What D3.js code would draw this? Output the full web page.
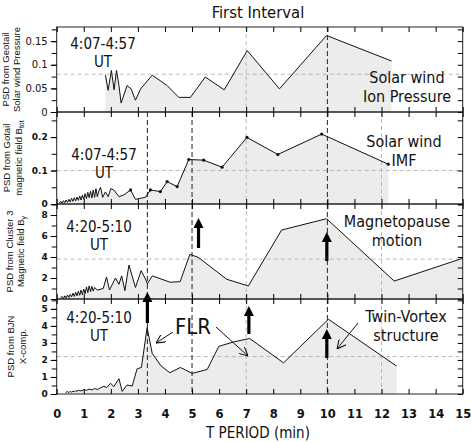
<!DOCTYPE html>
<html lang="en">
<head>
<meta charset="UTF-8">
<title>First Interval</title>
<script src="https://d3js.org/d3.v7.min.js"></script>
<style>
  body { margin: 0; background: #fff; }
  svg text { font-family: "DejaVu Sans", Verdana, sans-serif; fill: #111; }
  svg text.ann { font-family: "DejaVu Sans Condensed", "DejaVu Sans", sans-serif; }
</style>
</head>
<body>
<svg id="chart" width="471" height="442"></svg>
<script>
// ---- data (period in min, PSD) ----
const periods = d3.range(0, 16);

const geotailPressure = [
  [1.80, 0.078], [1.90, 0.046], [2.02, 0.088], [2.12, 0.047], [2.21, 0.088],
  [2.30, 0.056], [2.38, 0.019], [2.60, 0.056], [2.75, 0.049], [2.91, 0.025],
  [3.10, 0.049], [3.53, 0.078], [4.08, 0.056], [4.51, 0.031], [4.94, 0.031],
  [5.49, 0.074], [6.19, 0.047], [7.04, 0.130], [8.23, 0.049], [9.97, 0.162],
  [12.37, 0.108]
];

const geotailBtot = [
  [0.10, 0.003], [0.15, 0.008], [0.20, 0.002], [0.25, 0.010], [0.30, 0.004],
  [0.35, 0.012], [0.40, 0.005], [0.45, 0.014], [0.50, 0.006], [0.55, 0.017],
  [0.60, 0.008], [0.65, 0.019], [0.70, 0.009], [0.75, 0.021], [0.80, 0.011],
  [0.85, 0.024], [0.90, 0.012], [0.95, 0.027], [1.00, 0.014], [1.05, 0.031],
  [1.10, 0.016], [1.15, 0.035], [1.20, 0.019], [1.25, 0.038], [1.30, 0.018],
  [1.35, 0.042], [1.40, 0.020], [1.45, 0.046], [1.50, 0.022], [1.56, 0.040],
  [1.62, 0.050], [1.70, 0.020], [1.80, 0.036], [1.90, 0.022], [2.00, 0.046],
  [2.11, 0.042], [2.30, 0.022], [2.48, 0.027], [2.73, 0.042], [2.91, 0.014],
  [3.28, 0.020], [3.46, 0.042], [3.83, 0.037], [4.08, 0.067], [4.45, 0.052],
  [4.88, 0.133], [5.43, 0.131], [6.11, 0.110], [7.03, 0.199], [8.17, 0.148],
  [9.79, 0.209], [12.25, 0.119]
];
const btotMarkers = [2.73, 3.46, 3.83, 4.08, 4.45, 4.88, 5.43, 6.11, 7.03, 8.17, 9.79, 12.25];

const clusterBy = [
  [0.15, 0.10], [0.20, 0.25], [0.25, 0.05], [0.30, 0.30], [0.35, 0.10],
  [0.40, 0.38], [0.45, 0.15], [0.50, 0.45], [0.55, 0.20], [0.60, 0.55],
  [0.65, 0.25], [0.70, 0.65], [0.75, 0.30], [0.80, 0.75], [0.85, 0.35],
  [0.90, 0.85], [0.95, 0.40], [1.00, 0.95], [1.05, 0.50], [1.10, 1.15],
  [1.15, 0.60], [1.20, 1.25], [1.25, 0.70], [1.30, 1.20], [1.35, 0.75],
  [1.40, 1.10], [1.50, 0.85], [1.72, 1.00], [1.84, 2.10], [1.95, 0.85],
  [2.17, 2.00], [2.30, 1.40], [2.40, 2.20], [2.52, 0.80], [2.67, 3.24],
  [2.91, 1.10], [3.12, 2.70], [3.28, 1.90], [3.35, 1.45], [3.53, 2.20],
  [4.19, 1.60], [4.56, 1.65], [4.92, 4.25], [5.23, 3.97], [6.28, 1.88],
  [7.08, 1.24], [8.31, 6.57], [9.97, 7.65], [12.47, 1.71], [15.0, 3.88]
];

const bjnX = [
  [0.33, 0.10], [0.40, 0.14], [0.45, 0.08], [0.50, 0.16], [0.55, 0.10],
  [0.60, 0.18], [0.65, 0.12], [0.70, 0.20], [0.75, 0.15], [0.80, 0.22],
  [0.90, 0.18], [1.00, 0.25], [1.10, 0.22], [1.20, 0.28], [1.30, 0.24],
  [1.40, 0.32], [1.50, 0.26], [1.62, 0.36], [1.74, 0.45], [1.85, 0.38],
  [1.99, 0.63], [2.11, 0.43], [2.30, 0.90], [2.42, 0.15], [2.60, 0.53],
  [2.79, 0.47], [2.97, 1.48], [3.13, 1.56], [3.34, 3.90], [3.53, 2.38],
  [3.86, 1.64], [4.18, 1.25], [4.57, 1.56], [5.00, 1.21], [5.56, 1.44],
  [5.99, 2.80], [6.54, 3.06], [7.13, 3.26], [8.38, 1.83], [10.04, 4.39],
  [12.56, 1.64]
];

// ---- panels ----
const panels = [
  { data: geotailPressure, top: 27, bottom: 112, max: 0.18, ticks: [0, 0.05, 0.1, 0.15], minor: 0.025,
    fmt: d => String(d), bold: false, grid: 0.08,
    ylab: ["PSD from Geotail", "Solar wind Pressure"], labX: [9, 20],
    ut: "4:07-4:57", utX: 103, utY: 49,
    note: ["Solar wind", "Ion Pressure"], noteX: 407, noteY: 83 },
  { data: geotailBtot, top: 112, bottom: 204, max: 0.275, ticks: [0, 0.1, 0.2], minor: 0.05,
    fmt: d => String(d), bold: true, grid: 0.1,
    ylab: ["PSD from Gotail", ["magnetic field B", "tot"]], labX: [10, 22],
    ut: "4:07-4:57", utX: 104, utY: 160,
    note: ["Solar wind", "IMF"], noteX: 404, noteY: 147 },
  { data: clusterBy, top: 204, bottom: 299, max: 9.05, ticks: [0, 2, 4, 6, 8], minor: 1,
    fmt: d => String(d), bold: true, grid: 3.8,
    ylab: ["PSD from Cluster 3", ["Magnetic field B", "y"]], labX: [13, 24],
    ut: "4:20-5:10", utX: 99, utY: 232,
    note: ["Magnetopause", "motion"], noteX: 397, noteY: 227 },
  { data: bjnX, top: 299, bottom: 394, max: 5.58, ticks: [0, 1, 2, 3, 4, 5], minor: 0.5,
    fmt: d => String(d), bold: true, grid: 2.2,
    ylab: ["PSD from BJN", "X-comp."], labX: [14, 26],
    ut: "4:20-5:10", utX: 99, utY: 323,
    note: ["Twin-Vortex", "structure"], noteX: 406, noteY: 322 }
];

const svg = d3.select("#chart");
const x = d3.scaleLinear().domain([0, 15]).range([56.7, 462.7]);

svg.append("text").attr("class", "ann").attr("x", 258).attr("y", 18).attr("text-anchor", "middle")
  .attr("font-size", 16.5).text("First Interval");

svg.append("defs").append("marker")
  .attr("id", "vhead").attr("viewBox", "0 0 10 10").attr("refX", 10).attr("refY", 5)
  .attr("markerWidth", 9).attr("markerHeight", 9).attr("markerUnits", "userSpaceOnUse")
  .attr("orient", "auto")
  .append("path").attr("d", "M0,0 L10,5 L0,10").attr("fill", "none").attr("stroke", "#111").attr("stroke-width", 1.2);

panels.forEach((p, i) => {
  const y = d3.scaleLinear().domain([0, p.max]).range([p.bottom, p.top]);
  const g = svg.append("g");

  // fill
  g.append("path").datum(p.data)
    .attr("fill", "#ececec")
    .attr("d", d3.area().x(d => x(d[0])).y0(y(0)).y1(d => y(d[1])));

  // light dashed grid
  g.append("line").attr("x1", x(0)).attr("x2", x(15)).attr("y1", y(p.grid)).attr("y2", y(p.grid))
    .attr("stroke", "#aaa").attr("stroke-dasharray", "4,3").attr("stroke-width", 0.8);
  (i === 0 ? [7] : [7, 12]).forEach(v => {
    g.append("line").attr("x1", x(v)).attr("x2", x(v)).attr("y1", p.top).attr("y2", p.bottom)
      .attr("stroke", "#aaa").attr("stroke-dasharray", "4,3").attr("stroke-width", 0.8);
  });
  // dark dashed lines
  (i === 0 ? [10] : [3.35, 5, 10]).forEach(v => {
    g.append("line").attr("x1", x(v)).attr("x2", x(v)).attr("y1", p.top).attr("y2", p.bottom)
      .attr("stroke", "#222").attr("stroke-dasharray", "5,3").attr("stroke-width", 1);
  });

  g.append("path").datum(p.data)
    .attr("fill", "none").attr("stroke", "#111").attr("stroke-width", 1)
    .attr("d", d3.line().x(d => x(d[0])).y(d => y(d[1])));

  if (i === 1) {
    g.selectAll("circle").data(p.data.filter(d => btotMarkers.includes(d[0]))).join("circle")
      .attr("cx", d => x(d[0])).attr("cy", d => y(d[1])).attr("r", 1.6).attr("fill", "#111");
  }

  // frame
  g.append("rect").attr("x", x(0)).attr("y", p.top).attr("width", x(15) - x(0)).attr("height", p.bottom - p.top)
    .attr("fill", "none").attr("stroke", "#222").attr("stroke-width", 1);

  // x ticks inward top and bottom
  g.append("g").attr("transform", `translate(0,${p.bottom})`)
    .call(d3.axisTop(x).tickValues(periods).tickSize(5).tickFormat(""))
    .call(a => a.select(".domain").remove());
  g.append("g").attr("transform", `translate(0,${p.top})`)
    .call(d3.axisBottom(x).tickValues(periods).tickSize(5).tickFormat(""))
    .call(a => a.select(".domain").remove());

  // y axis left (outward) with minor ticks
  const minorVals = d3.range(0, p.max + 1e-9, p.minor);
  g.append("g").attr("transform", `translate(${x(0)},0)`)
    .call(d3.axisLeft(y).tickValues(minorVals).tickSize(5).tickFormat(""))
    .call(a => a.select(".domain").remove());
  const yl = g.append("g").attr("transform", `translate(${x(0)},0)`)
    .call(d3.axisLeft(y).tickValues(p.ticks).tickSize(6).tickPadding(3).tickFormat(p.fmt));
  yl.select(".domain").remove();
  yl.selectAll("text").attr("font-size", p.bold ? 9 : 10).attr("font-weight", p.bold ? "bold" : "normal")
    .attr("font-family", "DejaVu Sans, sans-serif").attr("fill", "#111");
  // right ticks inward
  g.append("g").attr("transform", `translate(${x(15)},0)`)
    .call(d3.axisLeft(y).tickValues(minorVals).tickSize(5).tickFormat(""))
    .call(a => a.select(".domain").remove());

  // y label
  p.ylab.forEach((lab, k) => {
    const t = g.append("text").attr("transform", `translate(${p.labX[k]},${(p.top + p.bottom) / 2}) rotate(-90)`)
      .attr("text-anchor", "middle").attr("font-size", 9.5)
      .attr("style", "font-family:'Liberation Sans',Arial,sans-serif");
    if (Array.isArray(lab)) {
      t.append("tspan").text(lab[0]);
      t.append("tspan").attr("font-size", 7).attr("dy", 2).text(lab[1]);
    } else t.text(lab);
  });

  // UT label
  g.append("text").attr("class", "ann").attr("x", p.utX).attr("y", p.utY).attr("text-anchor", "middle")
    .attr("font-size", 15).text(p.ut);
  g.append("text").attr("class", "ann").attr("x", p.utX).attr("y", p.utY + 18).attr("text-anchor", "middle")
    .attr("font-size", 15).text("UT");

  // right note
  p.note.forEach((s, k) => {
    g.append("text").attr("class", "ann").attr("x", p.noteX).attr("y", p.noteY + k * 19).attr("text-anchor", "middle")
      .attr("font-size", 16).text(s);
  });
});

// shared x tick labels
const xa = svg.append("g").attr("transform", `translate(0,${panels[3].bottom})`)
  .call(d3.axisBottom(x).tickValues(periods).tickSize(0).tickPadding(16));
xa.select(".domain").remove();
xa.selectAll("text").attr("font-size", 11.5).attr("font-weight", "bold").attr("fill", "#111")
  .attr("font-family", "DejaVu Sans, sans-serif");

svg.append("text").attr("class", "ann").attr("x", 258).attr("y", 438).attr("text-anchor", "middle")
  .attr("font-size", 15).text("T PERIOD (min)");

// thick up arrows [period, yStart, yTip]
const bigArrows = [[5.24, 248, 218], [9.98, 261, 232], [3.35, 323, 292], [7.1, 334, 306], [9.98, 358, 329]];
bigArrows.forEach(([v, y0, y1]) => {
  const cx = x(v);
  svg.append("line").attr("x1", cx).attr("x2", cx).attr("y1", y0).attr("y2", y1 + 9)
    .attr("stroke", "#000").attr("stroke-width", 3.2);
  svg.append("path").attr("d", `M${cx - 5},${y1 + 10} L${cx},${y1} L${cx + 5},${y1 + 10} Z`).attr("fill", "#000");
});

// FLR label and thin arrows
svg.append("text").attr("class", "ann").attr("x", 193).attr("y", 334).attr("text-anchor", "middle")
  .attr("font-size", 22).text("FLR");
const thin = [[173, 332, 156, 343], [216, 327, 248, 356], [358, 323, 337, 349]];
thin.forEach(([a, b, c, d]) => {
  svg.append("line").attr("x1", a).attr("y1", b).attr("x2", c).attr("y2", d)
    .attr("stroke", "#111").attr("stroke-width", 1).attr("marker-end", "url(#vhead)");
});
</script>
</body>
</html>
